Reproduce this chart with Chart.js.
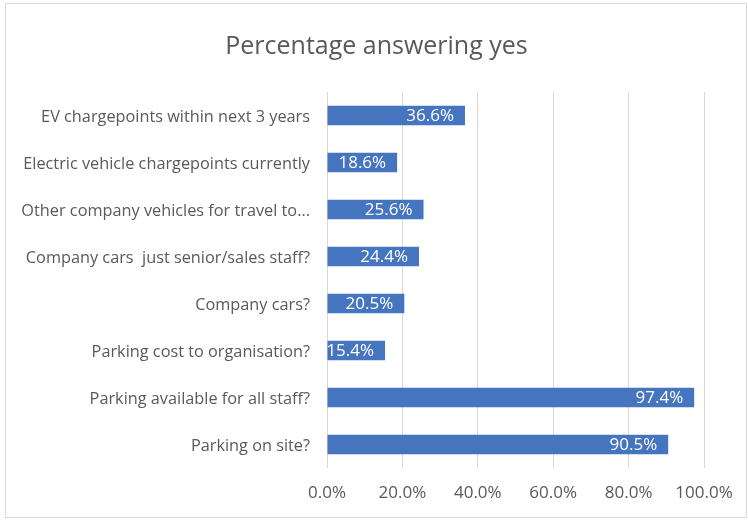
<!DOCTYPE html>
<html>
<head>
<meta charset="utf-8">
<script src="https://cdn.jsdelivr.net/npm/chart.js@4/dist/chart.umd.min.js"></script>
<style>
  html, body { margin: 0; padding: 0; background: #fff; }
  #wrap { position: relative; width: 748px; height: 522px; }
  #frame { position: absolute; left: 5px; top: 3px; width: 742px; height: 515px; border: 1px solid #d9d9d9; box-sizing: border-box; }
  canvas { position: absolute; left: 0; top: 0; }
</style>
</head>
<body>
<div id="wrap">
  <div id="frame"></div>
  <canvas id="grafico" width="748" height="522"></canvas>
</div>
<script>
const categorias = [
  "EV chargepoints within next 3 years",
  "Electric vehicle chargepoints currently",
  "Other company vehicles for travel to...",
  "Company cars  just senior/sales staff?",
  "Company cars?",
  "Parking cost to organisation?",
  "Parking available for all staff?",
  "Parking on site?"
];
const valores = [36.6, 18.6, 25.6, 24.4, 20.5, 15.4, 97.4, 90.5];
const ticksX = [0, 20, 40, 60, 80, 100];

const corBarra = "#4675C0";
const corTexto = "#595959";
const fonte = "'Open Sans', sans-serif";

// rotulos brancos dentro da ponta de cada barra
const rotulosBarras = {
  id: "rotulosBarras",
  afterDatasetsDraw(chart) {
    const ctx = chart.ctx;
    const meta = chart.getDatasetMeta(0);
    ctx.save();
    ctx.fillStyle = "#ffffff";
    ctx.font = "17px " + fonte;
    ctx.textAlign = "right";
    ctx.textBaseline = "middle";
    meta.data.forEach((barra, i) => {
      ctx.fillText(valores[i].toFixed(1) + "%", barra.x - 11, barra.y + 1);
    });
    ctx.restore();
  }
};

const ctx = document.getElementById("grafico").getContext("2d");
new Chart(ctx, {
  type: "bar",
  data: {
    labels: categorias,
    datasets: [{
      data: valores,
      backgroundColor: corBarra,
      borderWidth: 0,
      categoryPercentage: 0.41,
      barPercentage: 1
    }]
  },
  options: {
    indexAxis: "y",
    responsive: false,
    animation: false,
    layout: { padding: { left: 5, right: 0, top: 0, bottom: 0 } },
    plugins: {
      legend: { display: false },
      tooltip: { enabled: false },
      title: {
        display: true,
        text: "Percentage answering yes",
        color: corTexto,
        font: { family: fonte, size: 25, weight: "normal" },
        padding: { top: 32, bottom: 30 }
      }
    },
    scales: {
      x: {
        min: 0,
        max: 100,
        afterBuildTicks(axis) {
          axis.ticks = ticksX.map(v => ({ value: v }));
        },
        afterFit(axis) { axis.height = 54; },
        ticks: {
          color: corTexto,
          font: { family: fonte, size: 17 },
          padding: 15,
          callback: v => v.toFixed(1) + "%"
        },
        grid: { color: "#d9d9d9", drawTicks: false },
        border: { display: false }
      },
      y: {
        afterFit(axis) { axis.width = 322; },
        ticks: {
          color: corTexto,
          font: { family: fonte, size: 16.3 },
          padding: 9,
          labelOffset: 2
        },
        grid: { display: false },
        border: { display: false }
      },
      margem: {
        type: "category",
        axis: "y",
        position: "right",
        afterFit(axis) { axis.width = 44; },
        ticks: { display: false },
        grid: { display: false },
        border: { display: false }
      }
    }
  },
  plugins: [rotulosBarras]
});
</script>
</body>
</html>
